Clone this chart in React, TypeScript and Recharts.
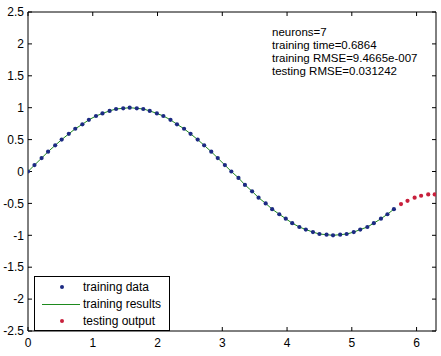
import React from 'react';
import {
  ComposedChart,
  Line,
  Scatter,
  XAxis,
  YAxis,
  Legend,
} from 'recharts';

// sampled inputs (step ~2*pi/60)
const trainX = [
  0, 0.10, 0.21, 0.31, 0.42, 0.52, 0.63, 0.73, 0.84, 0.94, 1.05, 1.15, 1.26, 1.36,
  1.47, 1.57, 1.68, 1.78, 1.88, 1.99, 2.09, 2.20, 2.30, 2.41, 2.51, 2.62, 2.72, 2.83,
  2.93, 3.04, 3.14, 3.25, 3.35, 3.46, 3.56, 3.67, 3.77, 3.88, 3.98, 4.08, 4.19, 4.29,
  4.40, 4.50, 4.61, 4.71, 4.82, 4.92, 5.03, 5.13, 5.24, 5.34, 5.45, 5.55, 5.65,
];
const trainData = [
  0, 0.10, 0.21, 0.31, 0.41, 0.50, 0.59, 0.67, 0.74, 0.81, 0.87, 0.91, 0.95, 0.98,
  0.99, 1.00, 0.99, 0.98, 0.95, 0.91, 0.87, 0.81, 0.74, 0.67, 0.59, 0.50, 0.41, 0.31,
  0.21, 0.10, 0, -0.10, -0.21, -0.31, -0.41, -0.50, -0.59, -0.67, -0.74, -0.81, -0.87, -0.91,
  -0.95, -0.98, -0.99, -1.00, -0.99, -0.98, -0.95, -0.91, -0.87, -0.81, -0.74, -0.67, -0.59,
];
// network output on the training inputs (RMSE ~1e-6, same as targets)
const trainResults = trainData;

const testX = [5.76, 5.86, 5.97, 6.07, 6.18, 6.28];
const testOutput = [-0.51, -0.46, -0.41, -0.38, -0.36, -0.36];

const xTicks = [0, 1, 2, 3, 4, 5, 6];
const yTicks = [-2.5, -2, -1.5, -1, -0.5, 0, 0.5, 1, 1.5, 2, 2.5];

const infoLines = [
  'neurons=7',
  'training time=0.6864',
  'training RMSE=9.4665e-007',
  'testing RMSE=0.031242',
];
const legendItems = ['training data', 'training results', 'testing output'];

const FONT = "Arial, 'Liberation Sans', sans-serif";
const BLUE = '#1c2a82';
const GREEN = '#1e8a1e';
const RED = '#c8203c';

const trainRows = trainX.map((x, i) => ({ x, y: trainData[i] }));
const fitRows = trainX.map((x, i) => ({ x, y: trainResults[i] }));
const testRows = testX.map((x, i) => ({ x, y: testOutput[i] }));

const Dot = (color: string) => (props: any) => (
  <circle cx={props.cx} cy={props.cy} r={2.1} fill={color} />
);

const NoLabel = () => <g />;

const LegendBox = () => (
  <div
    style={{
      border: '1px solid #000',
      background: '#fff',
      width: 136,
      height: 55,
      boxSizing: 'border-box',
      fontFamily: FONT,
      fontSize: 12,
      position: 'relative',
    }}
  >
    {legendItems.map((name, i) => (
      <div
        key={name}
        style={{ position: 'absolute', top: 3 + i * 17, left: 0, height: 14, width: 135 }}
      >
        {i === 1 ? (
          <div style={{ position: 'absolute', left: 7, top: 7, width: 38, height: 1, background: GREEN }} />
        ) : (
          <div
            style={{
              position: 'absolute',
              left: 25,
              top: 5,
              width: 4,
              height: 4,
              borderRadius: 2,
              background: i === 0 ? BLUE : RED,
            }}
          />
        )}
        <span style={{ position: 'absolute', left: 48, top: 0, lineHeight: '14px' }}>{name}</span>
      </div>
    ))}
  </div>
);

const App: React.FC = () => {
  return (
    <div style={{ position: 'absolute', left: 0, top: 0, width: 441, height: 356, background: '#fff' }}>
      <ComposedChart
        width={441}
        height={356}
        data={trainRows}
        margin={{ top: 11, right: 4, left: 0, bottom: 0 }}
      >
        <XAxis
          dataKey="x"
          type="number"
          domain={[0, 6.3]}
          ticks={xTicks}
          height={25}
          tickSize={-4}
          tickMargin={11}
          stroke="#000"
          tick={{ fill: '#000', fontSize: 12, fontFamily: FONT }}
          allowDataOverflow
        />
        <XAxis
          xAxisId="top"
          orientation="top"
          dataKey="x"
          type="number"
          domain={[0, 6.3]}
          ticks={xTicks}
          height={1}
          tickSize={-4}
          stroke="#000"
          tick={NoLabel}
        />
        <YAxis
          dataKey="y"
          type="number"
          domain={[-2.5, 2.5]}
          ticks={yTicks}
          width={28}
          tickSize={-4}
          tickMargin={8}
          stroke="#000"
          tick={{ fill: '#000', fontSize: 12, fontFamily: FONT }}
          allowDataOverflow
        />
        <YAxis
          yAxisId="right"
          orientation="right"
          dataKey="y"
          type="number"
          domain={[-2.5, 2.5]}
          ticks={yTicks}
          width={1}
          tickSize={-4}
          stroke="#000"
          tick={NoLabel}
        />
        <Line
          data={fitRows}
          dataKey="y"
          name="training results"
          stroke={GREEN}
          strokeWidth={1}
          dot={false}
          isAnimationActive={false}
        />
        <Scatter
          data={trainRows}
          dataKey="y"
          name="training data"
          fill={BLUE}
          shape={Dot(BLUE)}
          isAnimationActive={false}
        />
        <Scatter
          data={testRows}
          dataKey="y"
          name="testing output"
          fill={RED}
          shape={Dot(RED)}
          isAnimationActive={false}
        />
        <Legend
          layout="vertical"
          align="center"
          verticalAlign="middle"
          wrapperStyle={{ left: 34, top: 276, width: 136, height: 55 }}
          content={() => <LegendBox />}
        />
      </ComposedChart>
      <div
        style={{
          position: 'absolute',
          left: 272,
          top: 26,
          fontFamily: FONT,
          fontSize: 11.5,
          lineHeight: '13px',
          color: '#000',
          whiteSpace: 'nowrap',
        }}
      >
        {infoLines.map((t) => (
          <div key={t}>{t}</div>
        ))}
      </div>
    </div>
  );
};

export default App;
